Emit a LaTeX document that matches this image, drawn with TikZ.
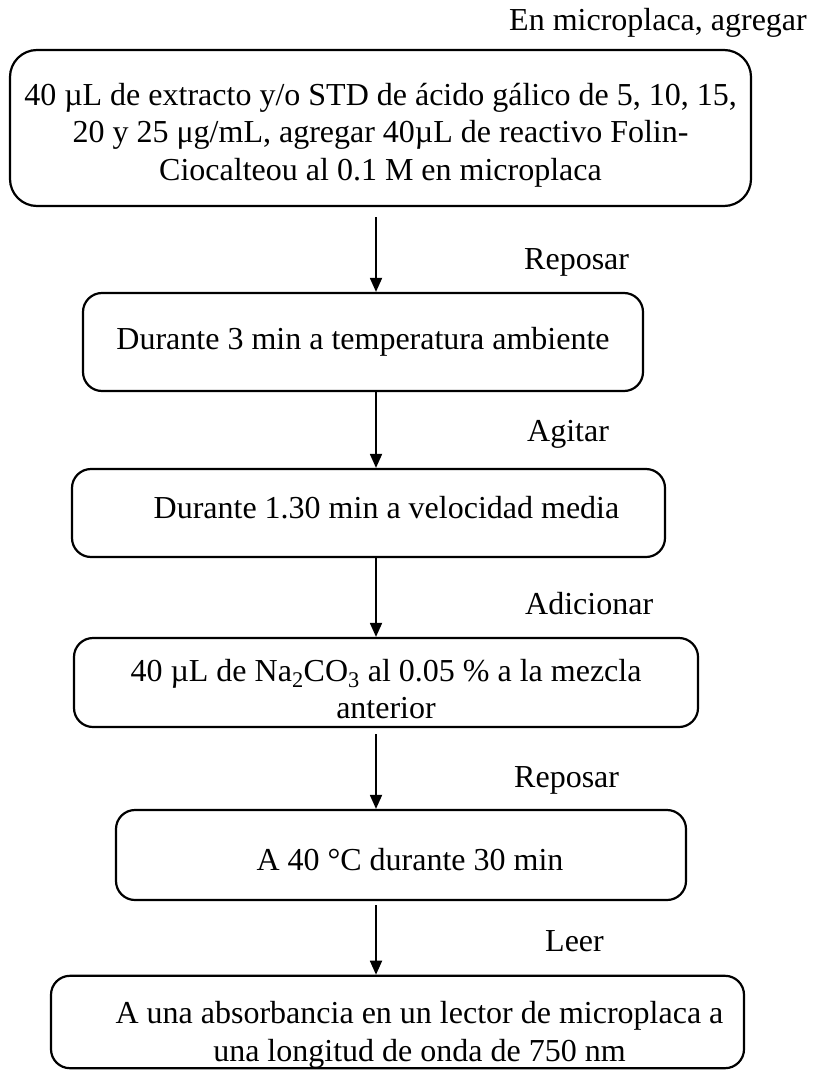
\documentclass[tikz,border=0pt]{standalone}
\usepackage{fontspec}
\setmainfont{Liberation Serif}
\usetikzlibrary{arrows.meta}
% raises the first line of a box text so the block sits a little lower
\newcommand\firstlinestrut[1]{\rule{0pt}{#1}}
\begin{document}
\begin{tikzpicture}[x=1pt,y=-1pt,
  stepbox/.style={draw, line width=2.2pt, rounded corners=19pt, align=center,
    inner sep=0pt, font=\fontsize{32}{37.5}\selectfont},
  note/.style={inner sep=0pt, font=\fontsize{32}{37.5}\selectfont},
  flow/.style={line width=1.8pt, -{Triangle[length=14pt,width=12pt]}}]
\useasboundingbox (0,0) rectangle (815,1070);

% process steps
\node[stepbox, rounded corners=27pt, minimum width=741pt, minimum height=156pt] (b1) at (380.5,128)
  {\firstlinestrut{36pt}40 µL de extracto y/o STD de ácido gálico de 5, 10, 15,\\
   20 y 25 μg/mL, agregar 40µL de reactivo Folin-\\
   Ciocalteou al 0.1 M en microplaca};
\node[stepbox, minimum width=560pt, minimum height=98pt] (b2) at (363,342)
  {Durante 3 min a temperatura ambiente};
\node[stepbox, minimum width=593pt, minimum height=88pt] (b3) at (368.5,513)
  {\hspace*{36pt}Durante 1.30 min a velocidad media\rule[-11pt]{0pt}{11pt}};
\node[stepbox, minimum width=624pt, minimum height=89pt] (b4) at (386,682.5)
  {\firstlinestrut{35pt}40 µL de Na\textsubscript{2}CO\textsubscript{3} al 0.05 \% a la mezcla\\
   anterior};
\node[stepbox, minimum width=570pt, minimum height=90pt] (b5) at (401,855)
  {\firstlinestrut{32pt}\hspace*{18pt}A 40 °C durante 30 min};
\node[stepbox, minimum width=693pt, minimum height=90pt] (b6) at (397.5,1022)
  {\firstlinestrut{48pt}\hspace*{44pt}A una absorbancia en un lector de microplaca a\\
   \hspace*{44pt}una longitud de onda de 750 nm};

% action labels
\node[note, anchor=base east] (l0) at (807,31) {En microplaca, agregar};
\node[note, anchor=base west] (l1) at (524,269) {Reposar};
\node[note, anchor=base west] (l2) at (527,441) {Agitar};
\node[note, anchor=base west] (l3) at (525,614) {Adicionar};
\node[note, anchor=base west] (l4) at (514,787) {Reposar};
\node[note, anchor=base west] (l5) at (545,951) {Leer};

% connectors run down a common vertical line
\coordinate (ax) at (376,0);
\draw[flow, shorten <=10pt] (b1.south -| ax) -- (b2.north -| ax);
\draw[flow] (b2.south -| ax) -- (b3.north -| ax);
\draw[flow] (b3.south -| ax) -- (b4.north -| ax);
\draw[flow, shorten <=6pt] (b4.south -| ax) -- (b5.north -| ax);
\draw[flow, shorten <=4pt] (b5.south -| ax) -- (b6.north -| ax);
\end{tikzpicture}
\end{document}
